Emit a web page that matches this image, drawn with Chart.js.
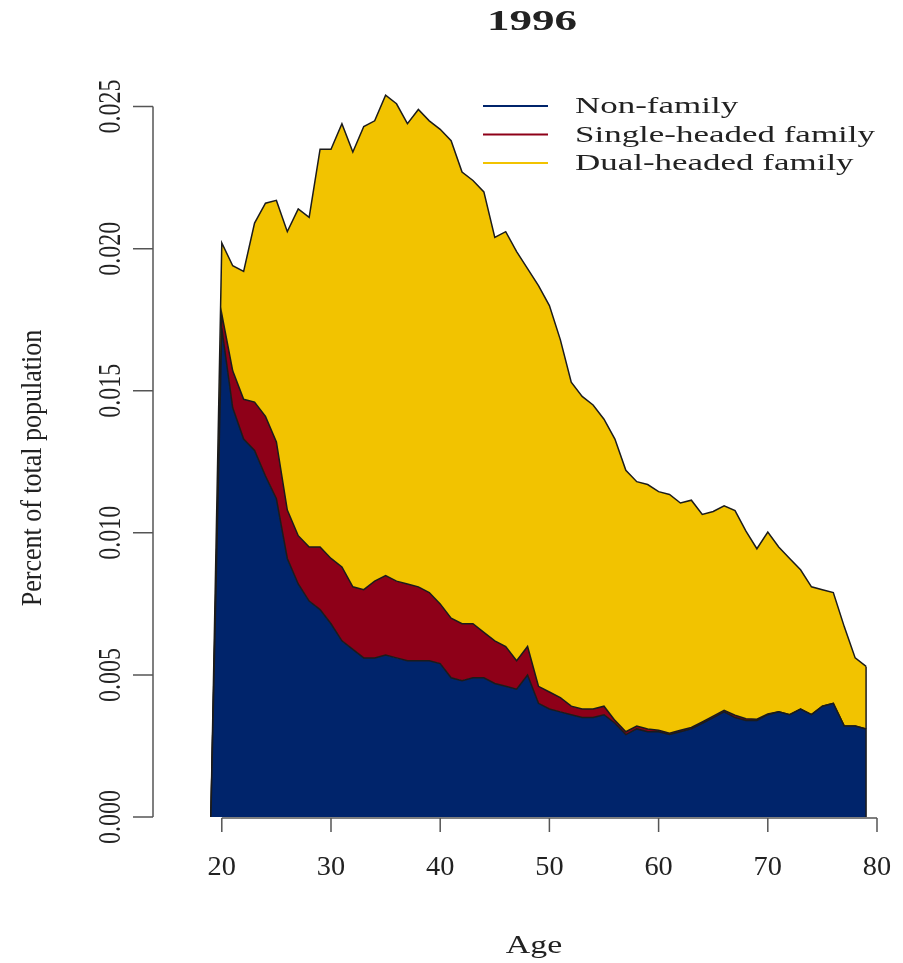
<!DOCTYPE html>
<html>
<head>
<meta charset="utf-8">
<script src="https://cdn.jsdelivr.net/npm/chart.js@4.4.1/dist/chart.umd.min.js"></script>
<style>
  html, body { margin: 0; padding: 0; background: #fff; }
  #wrap { width: 903px; height: 963px; }
</style>
</head>
<body>
<div id="wrap"><canvas id="chart" width="903" height="963"></canvas></div>
<script>
/* ================= DATA ================= */
const ages = [19, 20, 21, 22, 23, 24, 25, 26, 27, 28, 29, 30, 31, 32, 33, 34, 35, 36, 37, 38, 39,
              40, 41, 42, 43, 44, 45, 46, 47, 48, 49, 50, 51, 52, 53, 54, 55, 56, 57, 58, 59,
              60, 61, 62, 63, 64, 65, 66, 67, 68, 69, 70, 71, 72, 73, 74, 75, 76, 77, 78, 79];

const nonFamily = [0, 0.0172, 0.0144, 0.0133, 0.0129, 0.0120, 0.0112, 0.0091, 0.0082, 0.0076, 0.0073,
                   0.0068, 0.0062, 0.0059, 0.0056, 0.0056, 0.0057, 0.0056, 0.0055, 0.0055, 0.0055,
                   0.0054, 0.0049, 0.0048, 0.0049, 0.0049, 0.0047, 0.0046, 0.0045, 0.0050, 0.0040,
                   0.0038, 0.0037, 0.0036, 0.0035, 0.0035, 0.0036, 0.0033, 0.0029, 0.0031, 0.0030,
                   0.0030, 0.0029, 0.0030, 0.0031, 0.0033, 0.0035, 0.0037, 0.0035, 0.0034, 0.0034,
                   0.0036, 0.0037, 0.0036, 0.0038, 0.0036, 0.0039, 0.0040, 0.0032, 0.0032, 0.0031];

const singleHeaded = [0, 0.0005, 0.0013, 0.0014, 0.0017, 0.0021, 0.0020, 0.0017, 0.0017, 0.0019, 0.0022,
                      0.0023, 0.0026, 0.0022, 0.0024, 0.0027, 0.0028, 0.0027, 0.0027, 0.0026, 0.0024,
                      0.0021, 0.0021, 0.0020, 0.0019, 0.0016, 0.0015, 0.0014, 0.0010, 0.0010, 0.0006,
                      0.0006, 0.0005, 0.0003, 0.0003, 0.0003, 0.0003, 0.0001, 0.0001, 0.0001, 0.0001,
                      0.00005, 0.00005, 0.00005, 0.00005, 0.00005, 0.00005, 0.00005, 0.00008, 0.00006, 0.00004,
                      0.00003, 0, 0, 0, 0, 0, 0, 0, 0, 0];

const dualHeaded = [0, 0.0025, 0.0037, 0.0045, 0.0063, 0.0075, 0.0085, 0.0098, 0.0115, 0.0116, 0.0140,
                    0.0144, 0.0156, 0.0153, 0.0163, 0.0162, 0.0169, 0.0168, 0.0162, 0.0168, 0.0166,
                    0.0167, 0.0168, 0.0159, 0.0156, 0.0155, 0.0142, 0.0146, 0.0144, 0.0133, 0.0141,
                    0.0136, 0.0126, 0.0114, 0.0110, 0.0107, 0.0101, 0.0099, 0.0092, 0.0086, 0.0086,
                    0.0084, 0.0084, 0.0080, 0.0080, 0.0073, 0.0072, 0.0072, 0.0072, 0.0066, 0.0060,
                    0.0064, 0.0058, 0.0055, 0.0049, 0.0045, 0.0041, 0.0039, 0.0035, 0.0024, 0.0022];

const seriesNames = ["Non-family", "Single-headed family", "Dual-headed family"];
const seriesColors = ["#00246B", "#8E0018", "#F2C300"];

const xTicks = [20, 30, 40, 50, 60, 70, 80];
const yTicks = [0, 0.005, 0.010, 0.015, 0.020, 0.025];
const yTickLabels = ["0.000", "0.005", "0.010", "0.015", "0.020", "0.025"];

const chartTitle = "1996";
const xTitle = "Age";
const yTitle = "Percent of total population";

/* ================= TEXT HELPER ================= */
const SERIF = "'Liberation Serif', 'DejaVu Serif', serif";

// the reference text is stretched sideways, so each text gets its own x scale
function drawText(ctx, s, x, y, size, opts) {
    opts = opts || {};
    ctx.save();
    ctx.translate(x, y);
    ctx.scale(opts.sx || 1.3, 1);
    if (opts.rotate) ctx.rotate(-Math.PI / 2);
    ctx.font = (opts.bold ? "bold " : "") + size + "px " + SERIF;
    ctx.fillStyle = opts.color || "#222";
    ctx.textAlign = opts.align || "center";
    ctx.textBaseline = "middle";
    ctx.fillText(s, 0, 0);
    ctx.restore();
}

/* ================= R STYLE AXES / LEGEND ================= */
const rStyle = {
    id: "rStyle",
    afterDatasetsDraw(chart) {
        // R closes each polygon, so the right edge has an outline too
        const ctx = chart.ctx;
        const xs = chart.scales.x;
        const ys = chart.scales.y;
        const last = ages.length - 1;
        const top = nonFamily[last] + singleHeaded[last] + dualHeaded[last];
        ctx.save();
        ctx.strokeStyle = "#1b1b1b";
        ctx.lineWidth = 1.5;
        ctx.beginPath();
        ctx.moveTo(xs.getPixelForValue(ages[last]), ys.getPixelForValue(top));
        ctx.lineTo(xs.getPixelForValue(ages[last]), ys.getPixelForValue(0));
        ctx.stroke();
        ctx.restore();
    },
    afterDraw(chart) {
        const ctx = chart.ctx;
        const xs = chart.scales.x;
        const ys = chart.scales.y;
        const area = chart.chartArea;

        ctx.save();
        ctx.strokeStyle = "#555";
        ctx.lineWidth = 1.5;

        // y axis
        const yx = area.left;
        ctx.beginPath();
        ctx.moveTo(yx, ys.getPixelForValue(yTicks[0]));
        ctx.lineTo(yx, ys.getPixelForValue(yTicks[yTicks.length - 1]));
        yTicks.forEach(t => {
            const py = ys.getPixelForValue(t);
            ctx.moveTo(yx, py);
            ctx.lineTo(yx - 20, py);
        });
        ctx.stroke();
        yTicks.forEach((t, i) => {
            drawText(ctx, yTickLabels[i], yx - 41, ys.getPixelForValue(t), 24, { rotate: true, sx: 1.3 });
        });

        // x axis
        const xy = area.bottom + 1;
        ctx.beginPath();
        ctx.moveTo(xs.getPixelForValue(xTicks[0]), xy);
        ctx.lineTo(xs.getPixelForValue(xTicks[xTicks.length - 1]), xy);
        xTicks.forEach(t => {
            const px = xs.getPixelForValue(t);
            ctx.moveTo(px, xy);
            ctx.lineTo(px, xy + 14);
        });
        ctx.stroke();
        xTicks.forEach(t => {
            drawText(ctx, String(t), xs.getPixelForValue(t), xy + 50, 27, { sx: 1.05 });
        });

        // titles
        drawText(ctx, chartTitle, 532, 22, 30, { bold: true, sx: 1.5 });
        drawText(ctx, xTitle, 534, 946, 26, { sx: 1.3 });
        drawText(ctx, yTitle, 33, 468, 26, { rotate: true, sx: 1.1 });

        // legend
        const legX = 483, legY = 106, legGap = 28.5;
        seriesNames.forEach((name, i) => {
            const ly = legY + i * legGap;
            ctx.strokeStyle = seriesColors[i];
            ctx.lineWidth = 2;
            ctx.beginPath();
            ctx.moveTo(legX, ly);
            ctx.lineTo(legX + 65, ly);
            ctx.stroke();
            drawText(ctx, name, legX + 92, ly + 1, 23, { align: "left", sx: 1.52 });
        });
        ctx.restore();
    }
};

/* ================= CHART ================= */
const pts = arr => ages.map((a, i) => ({ x: a, y: arr[i] }));
const seriesData = [nonFamily, singleHeaded, dualHeaded];

new Chart(document.getElementById("chart"), {
    type: "line",
    data: {
        datasets: seriesData.map((arr, i) => ({
            label: seriesNames[i],
            data: pts(arr),
            backgroundColor: seriesColors[i],
            borderColor: "#1b1b1b",
            borderWidth: 1.5,
            fill: i === 0 ? "origin" : "-1",
            pointRadius: 0,
            tension: 0
        }))
    },
    options: {
        responsive: false,
        animation: false,
        devicePixelRatio: 1,
        layout: { padding: { left: 153, right: 26, top: 64, bottom: 146 } },
        plugins: { legend: { display: false }, tooltip: { enabled: false }, title: { display: false } },
        scales: {
            x: { type: "linear", min: 13.7, max: 80, display: false },
            y: { stacked: true, min: 0, max: 0.0265, display: false }
        }
    },
    plugins: [rStyle]
});
</script>
</body>
</html>
